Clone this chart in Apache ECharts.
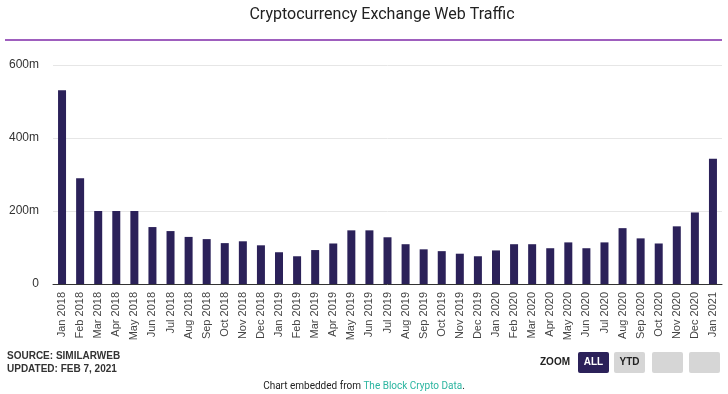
<!DOCTYPE html>
<html><head><meta charset="utf-8">
<script src="https://cdn.jsdelivr.net/npm/echarts@6/dist/echarts.min.js"></script>
<style>html,body{margin:0;padding:0;background:#fff}#c{width:728px;height:394px}</style>
</head><body><div id="c"></div>
<script>
const categories = ["Jan 2018","Feb 2018","Mar 2018","Apr 2018","May 2018","Jun 2018","Jul 2018","Aug 2018","Sep 2018","Oct 2018","Nov 2018","Dec 2018",
"Jan 2019","Feb 2019","Mar 2019","Apr 2019","May 2019","Jun 2019","Jul 2019","Aug 2019","Sep 2019","Oct 2019","Nov 2019","Dec 2019",
"Jan 2020","Feb 2020","Mar 2020","Apr 2020","May 2020","Jun 2020","Jul 2020","Aug 2020","Sep 2020","Oct 2020","Nov 2020","Dec 2020","Jan 2021"];
const traffic = [531,290,200,200,200,156,145,129,123,112,117,106,
87,76,93,111,147,147,128,109,95,90,83,76,
92,109,109,98,114,98,114,153,125,111,158,196,343];
const yTicks = [0,200,400,600];

const chart = echarts.init(document.getElementById('c'), null, {renderer:'canvas'});
chart.setOption({
  animation:false,
  backgroundColor:'#fff',
  grid:{left:53,right:6,top:65,bottom:110,containLabel:false},
  xAxis:{type:'category',data:categories,
    axisLine:{lineStyle:{color:'#333',width:1}},axisTick:{show:false},
    axisLabel:{rotate:90,interval:0,fontFamily:'Liberation Sans',fontSize:11,color:'#444',margin:8}},
  yAxis:{type:'value',min:yTicks[0],max:yTicks[yTicks.length-1],interval:200,
    axisLine:{show:false},axisTick:{show:false},
    splitLine:{lineStyle:{color:'#e6e6e6'}},
    axisLabel:{fontFamily:'Liberation Sans',fontSize:12,color:'#333',margin:14,
      formatter:v=>v===0?'0':v+'m'}},
  series:[{type:'bar',data:traffic,barWidth:8,itemStyle:{color:'#2b2159'}}],
  graphic:[
    {type:'text',x:382,y:15,style:{text:'Cryptocurrency Exchange Web Traffic',font:'16px Roboto',fill:'#222',align:'center',verticalAlign:'middle'}},
    {type:'line',shape:{x1:5,y1:40,x2:722,y2:40},style:{stroke:'#7f2aa8',lineWidth:1.5}},
    {type:'text',left:7,top:351,style:{text:'SOURCE: SIMILARWEB',font:'bold 10px "Liberation Sans"',fill:'#333'}},
    {type:'text',left:7,top:364,style:{text:'UPDATED: FEB 7, 2021',font:'bold 10px "Liberation Sans"',fill:'#333'}},
    {type:'text',left:540,top:357,style:{text:'ZOOM',font:'bold 10px "Liberation Sans"',fill:'#222'}},
    {type:'rect',shape:{x:578,y:352,width:31,height:21,r:2},style:{fill:'#2b2159'}},
    {type:'text',x:593.5,y:362.5,style:{text:'ALL',font:'bold 10px "Liberation Sans"',fill:'#fff',align:'center',verticalAlign:'middle'}},
    {type:'rect',shape:{x:614,y:352,width:31,height:21,r:2},style:{fill:'#d6d6d6'}},
    {type:'text',x:629.5,y:362.5,style:{text:'YTD',font:'bold 10px "Liberation Sans"',fill:'#222',align:'center',verticalAlign:'middle'}},
    {type:'rect',shape:{x:652,y:352,width:31,height:21,r:2},style:{fill:'#d6d6d6'}},
    {type:'rect',shape:{x:689,y:352,width:31,height:21,r:2},style:{fill:'#d6d6d6'}},
    {type:'text',x:364,y:386,style:{text:'{a|Chart embedded from }{b|The Block Crypto Data}{a|.}',align:'center',verticalAlign:'middle',
      rich:{a:{fontFamily:'Roboto',fontSize:10,fill:'#222',color:'#222'},b:{fontFamily:'Roboto',fontSize:10,color:'#2bb5a0',fill:'#2bb5a0'}}}}
  ]
});
</script></body></html>
